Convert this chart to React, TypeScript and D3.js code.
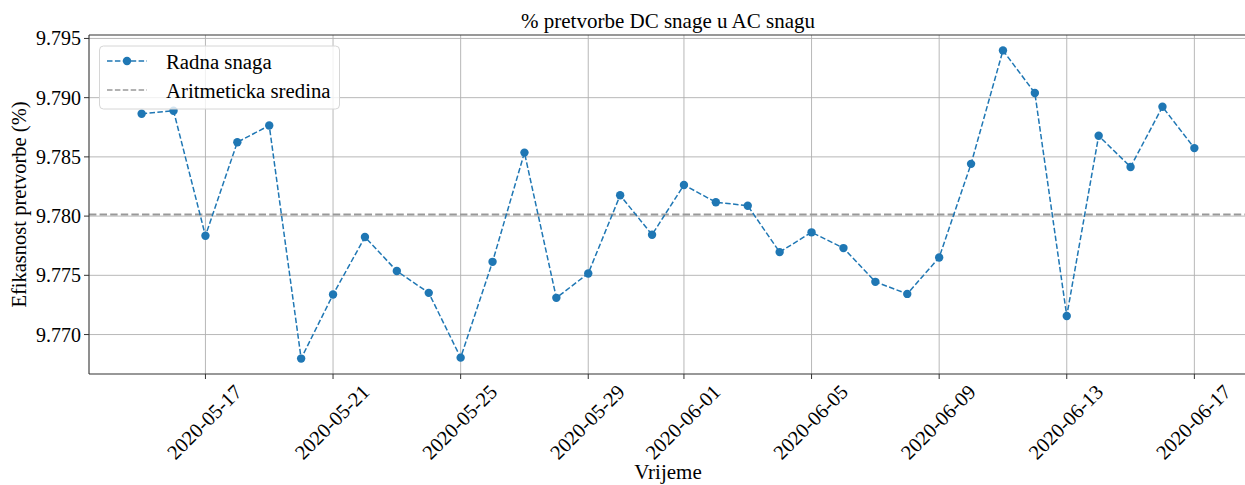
import React from "react";
import * as d3 from "d3";

const dates: string[] = [
  "2020-05-15","2020-05-16","2020-05-17","2020-05-18","2020-05-19","2020-05-20","2020-05-21",
  "2020-05-22","2020-05-23","2020-05-24","2020-05-25","2020-05-26","2020-05-27","2020-05-28",
  "2020-05-29","2020-05-30","2020-05-31","2020-06-01","2020-06-02","2020-06-03","2020-06-04",
  "2020-06-05","2020-06-06","2020-06-07","2020-06-08","2020-06-09","2020-06-10","2020-06-11",
  "2020-06-12","2020-06-13","2020-06-14","2020-06-15","2020-06-16","2020-06-17",
];
const efficiency: number[] = [
  9.78864, 9.78889, 9.77834, 9.78624, 9.78765, 9.76797, 9.77338,
  9.77823, 9.77536, 9.77352, 9.76805, 9.77614, 9.78536, 9.77310,
  9.77516, 9.78176, 9.77843, 9.78263, 9.78117, 9.78088, 9.77696,
  9.77863, 9.77730, 9.77445, 9.77343, 9.77651, 9.78441, 9.79399,
  9.79039, 9.77157, 9.78678, 9.78415, 9.78923, 9.78574,
];
const xTickDates: string[] = [
  "2020-05-17","2020-05-21","2020-05-25","2020-05-29","2020-06-01",
  "2020-06-05","2020-06-09","2020-06-13","2020-06-17",
];
const yTickValues: number[] = [9.770, 9.775, 9.780, 9.785, 9.790, 9.795];

const title = "% pretvorbe DC snage u AC snagu";
const xLabel = "Vrijeme";
const yLabel = "Efikasnost pretvorbe (%)";
const legendLabels = ["Radna snaga", "Aritmeticka sredina"];

const W = 1245, H = 485;
const left = 89, right = 1247, top = 35, bottom = 374;
const FONT = "'Liberation Serif', 'Times New Roman', serif";
const BLUE = "#1f77b4";

export default function App() {
  const parse = d3.utcParse("%Y-%m-%d");
  const pts = dates.map((d, i) => ({ date: parse(d)!, v: efficiency[i] }));
  const [d0, d1] = d3.extent(pts, (p) => p.date) as [Date, Date];
  const span = d1.getTime() - d0.getTime();
  const x = d3
    .scaleUtc()
    .domain([new Date(d0.getTime() - 0.05 * span), new Date(d1.getTime() + 0.05 * span)])
    .range([left, right]);
  const [v0, v1] = d3.extent(efficiency) as [number, number];
  const vr = v1 - v0;
  const y = d3.scaleLinear().domain([v0 - 0.05 * vr, v1 + 0.05 * vr]).range([bottom, top]);
  const mean = d3.mean(efficiency)!;

  const line = d3
    .line<{ date: Date; v: number }>()
    .x((p) => x(p.date))
    .y((p) => y(p.v));

  const fmt = d3.format(".3f");
  const tickDates = xTickDates.map((d) => parse(d)!);

  return (
    <svg
      width={W}
      height={H}
      style={{ position: "absolute", left: 0, top: 0, background: "#fff" }}
      fontFamily={FONT}
    >
      <defs>
        <clipPath id="plot">
          <rect x={left} y={top} width={right - left} height={bottom - top} />
        </clipPath>
      </defs>
      {/* grid */}
      <g stroke="#b0b0b0" strokeWidth={0.9}>
        {tickDates.map((d, i) => (
          <line key={"gx" + i} x1={x(d)} x2={x(d)} y1={top} y2={bottom} />
        ))}
        {yTickValues.map((v, i) => (
          <line key={"gy" + i} x1={left} x2={right} y1={y(v)} y2={y(v)} />
        ))}
      </g>
      {/* mean line */}
      <line
        x1={left}
        x2={right}
        y1={y(mean)}
        y2={y(mean)}
        stroke="#999999"
        strokeWidth={2}
        strokeDasharray="7.4,3.2"
      />
      {/* series */}
      <g clipPath="url(#plot)">
        <path
          d={line(pts)!}
          fill="none"
          stroke={BLUE}
          strokeWidth={1.5}
          strokeDasharray="5.5,2.4"
        />
        {pts.map((p, i) => (
          <circle key={"c" + i} cx={x(p.date)} cy={y(p.v)} r={4.2} fill={BLUE} />
        ))}
      </g>
      {/* spines */}
      <g stroke="#333" strokeWidth={1.1}>
        <line x1={left} x2={left} y1={top} y2={bottom} />
        <line x1={left} x2={right} y1={bottom} y2={bottom} />
        <line x1={left} x2={right} y1={top} y2={top} />
        <line x1={right} x2={right} y1={top} y2={bottom} />
      </g>
      {/* x ticks */}
      {tickDates.map((d, i) => {
        const tx = x(d);
        return (
          <g key={"xt" + i}>
            <line x1={tx} x2={tx} y1={bottom} y2={bottom + 5} stroke="#333" strokeWidth={1} />
            <text
              transform={`translate(${tx - 1},${bottom + 48}) rotate(-45)`}
              textAnchor="middle"
              dominantBaseline="central"
              fontSize={20.5}
              fill="#000"
            >
              {xTickDates[i]}
            </text>
          </g>
        );
      })}
      {/* y ticks */}
      {yTickValues.map((v, i) => (
        <g key={"yt" + i}>
          <line x1={left - 5} x2={left} y1={y(v)} y2={y(v)} stroke="#333" strokeWidth={1} />
          <text
            x={left - 8}
            y={y(v)}
            textAnchor="end"
            dominantBaseline="central"
            fontSize={20}
            fill="#000"
          >
            {fmt(v)}
          </text>
        </g>
      ))}
      {/* title & labels */}
      <text x={(left + right) / 2} y={28} textAnchor="middle" fontSize={21} fill="#000">
        {title}
      </text>
      <text x={(left + right) / 2} y={479} textAnchor="middle" fontSize={21} fill="#000">
        {xLabel}
      </text>
      <text
        transform={`translate(26,${(top + bottom) / 2}) rotate(-90)`}
        textAnchor="middle"
        fontSize={20.5}
        fill="#000"
      >
        {yLabel}
      </text>
      {/* legend */}
      <g>
        <rect
          x={99.5}
          y={46}
          width={240}
          height={63}
          rx={4}
          fill="#fff"
          fillOpacity={0.8}
          stroke="#d6d6d6"
          strokeWidth={1}
        />
        <line x1={107} x2={147} y1={61} y2={61} stroke={BLUE} strokeWidth={1.5} strokeDasharray="5.5,2.4" />
        <circle cx={127} cy={61} r={4.2} fill={BLUE} />
        <text x={166} y={61} dominantBaseline="central" fontSize={20.8} fill="#000">
          {legendLabels[0]}
        </text>
        <line x1={107} x2={147} y1={90} y2={90} stroke="#999999" strokeWidth={1.5} strokeDasharray="5.5,2.4" />
        <text x={166} y={90} dominantBaseline="central" fontSize={20.8} fill="#000">
          {legendLabels[1]}
        </text>
      </g>
    </svg>
  );
}
